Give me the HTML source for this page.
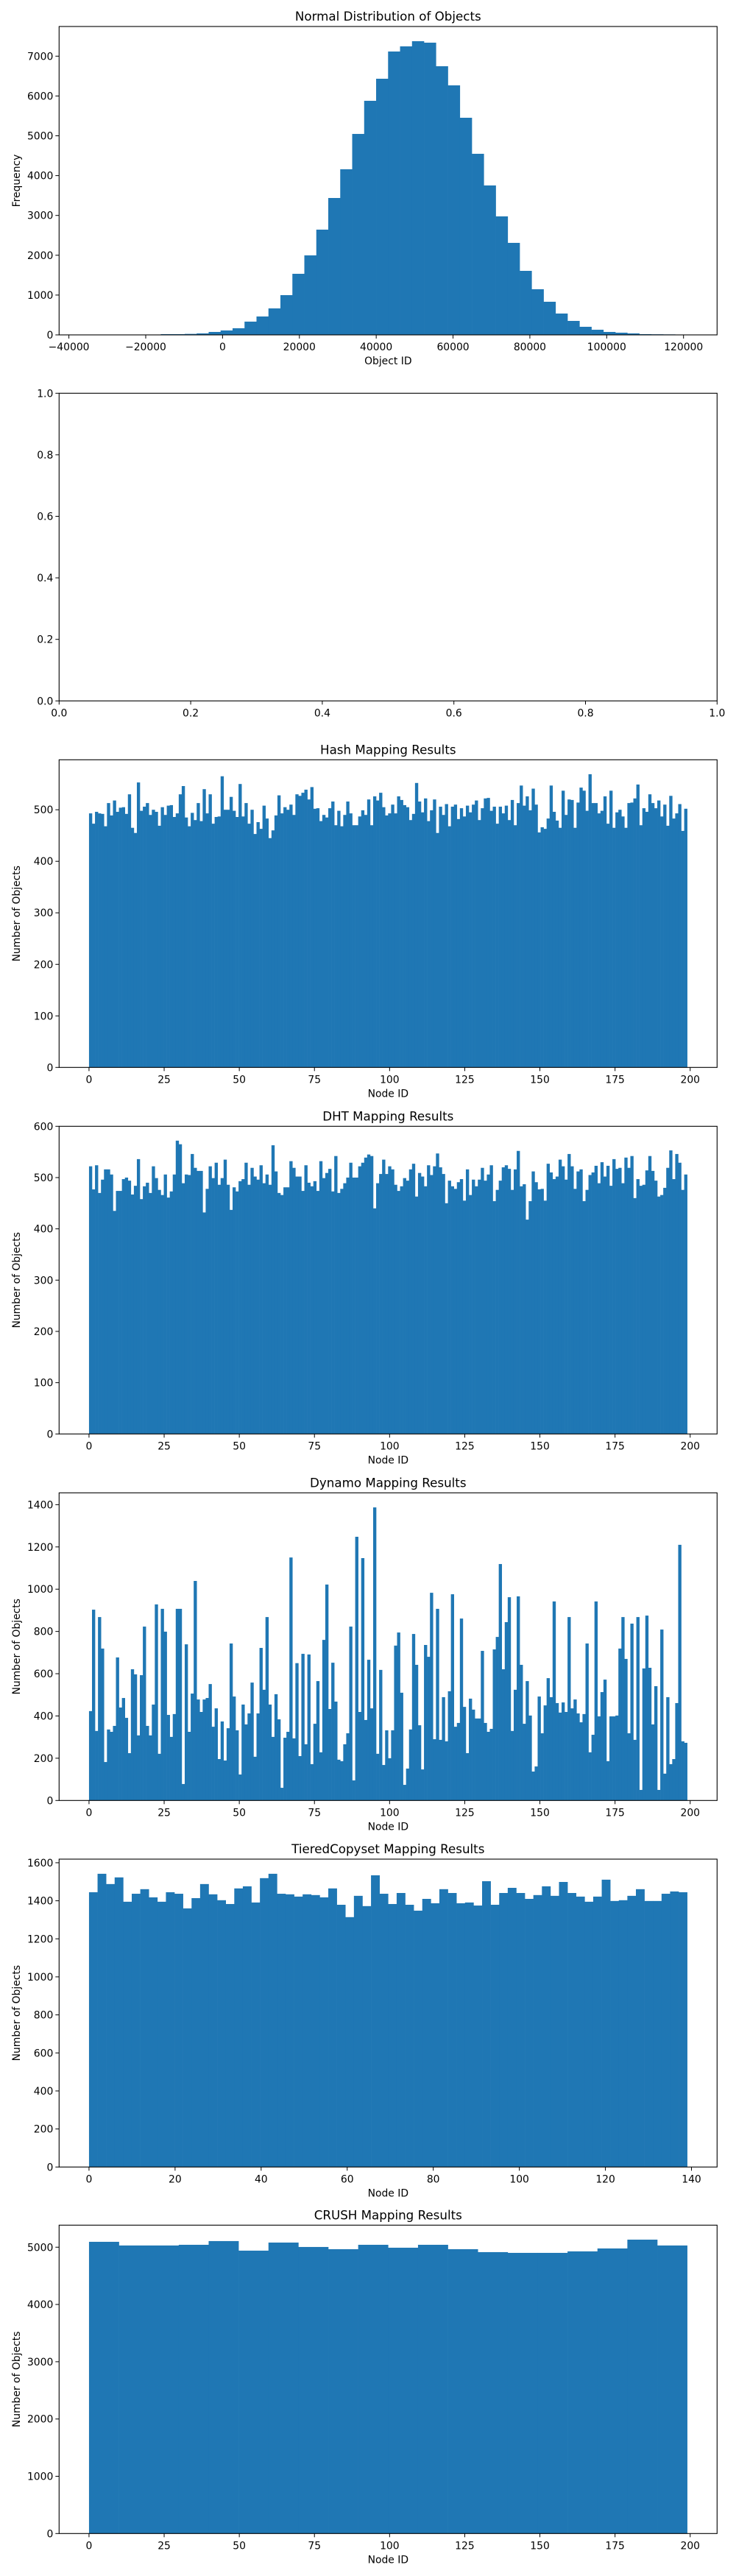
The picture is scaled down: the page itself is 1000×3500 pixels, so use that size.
<!DOCTYPE html>
<html><head><meta charset="utf-8"><style>
html,body{margin:0;padding:0;background:#fff;}
svg{display:block;font-family:"DejaVu Sans","Liberation Sans",sans-serif;}
</style></head>
<body>
<svg id="fig" width="1000" height="3500" viewBox="0 0 1000 3500" xmlns="http://www.w3.org/2000/svg">
<rect width="1000" height="3500" fill="#fff"/>
</svg>
<script>
// ---------- data ----------
const normalCounts = [1,0,1,2,3,8,18,18,25,37,74,111,166,333,462,665,998,1534,1997,2643,3438,4159,5047,5879,6433,7117,7246,7376,7339,6747,6267,5453,4548,3753,2976,2311,1608,1146,832,536,351,203,129,74,55,37,18,15,12,1];
const normalBinStart = -34760;
const normalBinWidth = 3114;
const normalXTicks = [-40000,-20000,0,20000,40000,60000,80000,100000,120000];
const normalYTicks = [0,1000,2000,3000,4000,5000,6000,7000];
const emptyTicks = [0,0.2,0.4,0.6,0.8,1.0];
const hashCounts = [493,473,496,493,492,468,513,489,518,496,504,505,492,530,465,455,553,498,506,513,490,500,496,469,505,490,508,509,486,493,530,546,485,468,494,480,513,478,540,493,530,473,486,487,565,500,500,525,498,486,550,487,513,473,500,453,476,463,508,483,445,460,489,528,493,505,500,510,490,530,527,533,539,520,544,502,503,478,490,485,503,516,470,498,468,490,516,493,470,470,487,499,490,520,470,526,518,533,505,489,493,510,493,526,519,509,505,480,492,552,516,495,522,478,499,520,455,506,490,511,468,506,510,482,503,487,508,495,510,518,480,503,522,523,498,506,473,506,493,508,480,519,470,513,547,508,526,499,541,510,456,466,463,483,547,496,479,465,537,490,520,519,465,514,543,537,498,569,513,513,493,498,526,473,537,465,495,500,487,465,513,514,522,549,470,503,496,530,513,503,518,487,510,469,527,483,493,511,459,502];
const dhtCounts = [522,477,524,470,496,516,516,506,435,474,474,497,500,494,467,484,536,458,483,490,470,522,499,476,466,506,461,473,506,572,565,489,506,505,546,519,513,513,432,478,522,499,529,486,499,535,486,437,481,473,493,497,529,486,519,502,496,524,489,506,486,563,512,470,466,481,481,532,519,502,502,474,524,490,483,493,474,532,499,509,517,473,542,470,478,489,500,529,500,500,522,529,539,545,542,440,489,507,535,507,522,516,486,474,483,499,494,516,527,463,509,502,483,524,505,522,547,520,507,450,494,483,478,491,497,455,516,466,496,483,496,519,494,506,524,454,476,494,520,524,517,476,516,552,483,487,418,454,512,491,477,478,455,527,510,497,502,535,522,496,546,522,478,512,516,454,476,505,510,523,489,530,502,523,484,536,517,519,489,539,519,542,460,497,484,486,514,542,513,494,463,466,480,519,553,497,546,529,476,506];
const dynamoCounts = [423,903,329,868,719,182,336,325,353,677,440,485,391,224,621,597,308,593,823,353,308,454,928,221,907,799,405,301,409,907,907,78,739,325,506,1039,478,419,478,485,551,349,436,196,374,189,342,743,492,332,123,454,360,412,558,207,412,722,524,868,454,301,503,384,60,297,325,1150,294,650,210,694,266,691,172,363,565,228,760,1022,433,652,468,193,186,266,318,823,95,1248,419,1147,381,666,436,1387,221,618,168,332,200,332,733,795,510,74,151,336,788,642,356,147,736,680,983,290,907,287,489,280,517,976,349,367,861,443,224,482,430,388,388,708,367,325,339,715,774,1119,621,844,962,329,524,966,642,363,565,402,137,161,492,318,450,579,489,942,461,416,464,419,868,436,478,412,370,409,743,228,311,942,398,513,572,186,398,398,402,719,868,670,318,837,287,868,50,625,875,628,360,541,50,809,127,489,172,196,461,1210,280,273];
const tieredCounts = [1445,1542,1488,1523,1395,1437,1461,1418,1395,1445,1437,1360,1414,1488,1434,1403,1383,1465,1476,1391,1519,1542,1437,1434,1422,1434,1430,1418,1465,1379,1314,1426,1372,1534,1437,1383,1441,1379,1348,1410,1387,1461,1441,1387,1391,1375,1503,1379,1441,1468,1441,1410,1430,1476,1426,1499,1441,1422,1395,1422,1511,1399,1403,1426,1461,1399,1399,1437,1449,1445];
const crushCounts = [5094,5030,5030,5042,5107,4940,5081,5004,4965,5042,4991,5042,4965,4914,4901,4901,4927,4978,5132,5030];
const nodeTicks200 = [0,25,50,75,100,125,150,175,200];
const nodeTicks140 = [0,20,40,60,80,100,120,140];
const hashYTicks = [0,100,200,300,400,500];
const dhtYTicks = [0,100,200,300,400,500,600];
const dynamoYTicks = [0,200,400,600,800,1000,1200,1400];
const tieredYTicks = [0,200,400,600,800,1000,1200,1400,1600];
const crushYTicks = [0,1000,2000,3000,4000,5000];

// ---------- drawing ----------
const NS = "http://www.w3.org/2000/svg";
const fig = document.getElementById('fig');
const AX_L = 80.3, AX_R = 974.3, BLUE = "#1f77b4";
function mk(tag, attrs, parent){
  const e = document.createElementNS(NS, tag);
  for (const k in attrs) e.setAttribute(k, attrs[k]);
  (parent||fig).appendChild(e);
  return e;
}
function txt(s, attrs, parent){ const t = mk('text', attrs, parent); t.textContent = s; return t; }
function fmt(v, dec){
  let s = dec ? v.toFixed(dec) : String(Math.round(v));
  return s.replace('-', '\u2212');
}

function panel(p){
  const g = mk('g', {});
  
  
  const top = p.top, bot = p.bottom;
  const sx = v => AX_L + (v - p.xmin) / (p.xmax - p.xmin) * (AX_R - AX_L);
  const sy = v => bot - (v - p.ymin) / (p.ymax - p.ymin) * (bot - top);
  if (p.counts){
    const bars = mk('g', {}, g);
    
    
    p.counts.forEach((c, i) => {
      const x0 = sx(p.binStart + i * p.binWidth), x1 = sx(p.binStart + (i + 1) * p.binWidth);
      const r = mk('rect', {x: x0, y: sy(c), width: Math.max(0, x1 - x0 + 0.3), height: Math.max(0, sy(0) - sy(c)), fill: BLUE}, bars);
      
      
    });
  }
  const fr = mk('rect', {x: AX_L, y: top, width: AX_R - AX_L, height: bot - top, fill: 'none', stroke: '#000', 'stroke-width': 1.1}, g);
  
  
  p.xticks.forEach(v => {
    const x = sx(v);
    mk('line', {x1: x, x2: x, y1: bot, y2: bot + 5, stroke: '#000', 'stroke-width': 1}, g);
    const t = txt(fmt(v, p.xdec), {x: x, y: bot + 21, 'font-size': 13.9, 'text-anchor': 'middle', fill: '#000'}, g);
    
    
  });
  p.yticks.forEach(v => {
    const y = sy(v);
    mk('line', {x1: AX_L - 5, x2: AX_L, y1: y, y2: y, stroke: '#000', 'stroke-width': 1}, g);
    const t = txt(fmt(v, p.ydec), {x: AX_L - 8, y: y + 5, 'font-size': 13.9, 'text-anchor': 'end', fill: '#000'}, g);
    
    
  });
  if (p.title){
    const t = txt(p.title, {x: (AX_L + AX_R) / 2, y: top - 8, 'font-size': 16.7, 'text-anchor': 'middle', fill: '#000'}, g);
    
    
  }
  if (p.xlabel){
    const t = txt(p.xlabel, {x: (AX_L + AX_R) / 2, y: bot + 40, 'font-size': 13.9, 'text-anchor': 'middle', fill: '#000'}, g);
    
    
  }
  if (p.ylabel){
    const cy = (top + bot) / 2;
    const t = txt(p.ylabel, {x: 0, y: 0, 'font-size': 13.9, 'text-anchor': 'middle', fill: '#000', transform: 'translate(27,' + cy + ') rotate(-90)'}, g);
    
    
  }
}

panel({name:'normal-distribution-chart', top:36, bottom:455, xmin:-42548, xmax:128736, ymin:0, ymax:7745,
  counts:normalCounts, binStart:normalBinStart, binWidth:normalBinWidth, xticks:normalXTicks, yticks:normalYTicks,
  title:'Normal Distribution of Objects', xlabel:'Object ID', ylabel:'Frequency'});
panel({name:'empty-chart', top:534.3, bottom:952.3, xmin:0, xmax:1, ymin:0, ymax:1,
  xticks:emptyTicks, yticks:emptyTicks, xdec:1, ydec:1});
panel({name:'hash-mapping-chart', top:1032.3, bottom:1450.3, xmin:-9.95, xmax:208.95, ymin:0, ymax:597,
  counts:hashCounts, binStart:0, binWidth:0.995, xticks:nodeTicks200, yticks:hashYTicks,
  title:'Hash Mapping Results', xlabel:'Node ID', ylabel:'Number of Objects'});
panel({name:'dht-mapping-chart', top:1530.3, bottom:1948.3, xmin:-9.95, xmax:208.95, ymin:0, ymax:600,
  counts:dhtCounts, binStart:0, binWidth:0.995, xticks:nodeTicks200, yticks:dhtYTicks,
  title:'DHT Mapping Results', xlabel:'Node ID', ylabel:'Number of Objects'});
panel({name:'dynamo-mapping-chart', top:2028.3, bottom:2446.3, xmin:-9.95, xmax:208.95, ymin:0, ymax:1456,
  counts:dynamoCounts, binStart:0, binWidth:0.995, xticks:nodeTicks200, yticks:dynamoYTicks,
  title:'Dynamo Mapping Results', xlabel:'Node ID', ylabel:'Number of Objects'});
panel({name:'tieredcopyset-mapping-chart', top:2526, bottom:2944.3, xmin:-6.95, xmax:145.95, ymin:0, ymax:1619,
  counts:tieredCounts, binStart:0, binWidth:139/70, xticks:nodeTicks140, yticks:tieredYTicks,
  title:'TieredCopyset Mapping Results', xlabel:'Node ID', ylabel:'Number of Objects'});
panel({name:'crush-mapping-chart', top:3023.3, bottom:3442.3, xmin:-9.95, xmax:208.95, ymin:0, ymax:5385,
  counts:crushCounts, binStart:0, binWidth:9.95, xticks:nodeTicks200, yticks:crushYTicks,
  title:'CRUSH Mapping Results', xlabel:'Node ID', ylabel:'Number of Objects'});
</script>
</body></html>
